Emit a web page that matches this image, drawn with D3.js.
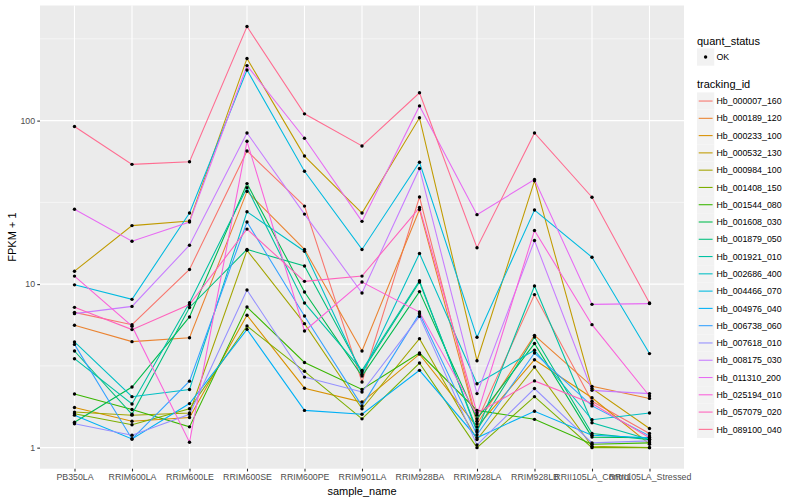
<!DOCTYPE html>
<html>
<head>
<meta charset="utf-8">
<script src="https://cdn.jsdelivr.net/npm/d3@7"></script>
<style>
  body { margin: 0; background: #fff; }
  text { font-family: "Liberation Sans", Arial, sans-serif; }
</style>
</head>
<body>
<script>
var samples = ["PB350LA", "RRIM600LA", "RRIM600LE", "RRIM600SE", "RRIM600PE", "RRIM901LA",
               "RRIM928BA", "RRIM928LA", "RRIM928LB", "RRII105LA_Control", "RRII105LA_Stressed"];

var trackingIds = ["Hb_000007_160", "Hb_000189_120", "Hb_000233_100", "Hb_000532_130", "Hb_000984_100",
                   "Hb_001408_150", "Hb_001544_080", "Hb_001608_030", "Hb_001879_050", "Hb_001921_010",
                   "Hb_002686_400", "Hb_004466_070", "Hb_004976_040", "Hb_006738_060", "Hb_007618_010",
                   "Hb_008175_030", "Hb_011310_200", "Hb_025194_010", "Hb_057079_020", "Hb_089100_040"];

// FPKM + 1, one array per tracking_id, in sample order
var hb_000007_160 = [6.72, 5.65, 12.3, 65.2, 30, 2.52, 34.1, 1.45, 8.63, 1.92, 1.22];
var hb_000189_120 = [5.6, 4.45, 4.7, 36.9, 16.3, 3.9, 28.6, 1.40, 4.86, 2.37, 2.0];
var hb_000233_100 = [1.76, 1.45, 1.53, 6.45, 2.31, 1.90, 3.73, 1.34, 3.45, 2.02, 1.05];
var hb_000532_130 = [12.0, 22.8, 24.3, 240, 60.7, 27.2, 104, 3.4, 42.8, 2.30, 1.31];
var hb_000984_100 = [1.65, 1.58, 1.63, 16.1, 5.73, 1.73, 4.64, 1.12, 3.11, 1.02, 1.0];
var hb_001408_150 = [1.61, 1.38, 1.73, 5.54, 2.93, 1.50, 3.29, 1.0, 2.05, 1.0, 1.0];
var hb_001544_080 = [2.13, 1.71, 1.34, 7.24, 3.32, 2.27, 3.79, 1.69, 1.49, 1.05, 1.07];
var hb_001608_030 = [1.43, 2.35, 6.3, 41.2, 8.95, 2.74, 9.0, 1.50, 4.33, 1.16, 1.15];
var hb_001879_050 = [3.9, 1.6, 7.2, 16.3, 12.9, 2.9, 10.3, 1.28, 4.75, 1.22, 1.12];
var hb_001921_010 = [3.5, 1.85, 7.7, 38.9, 7.67, 2.97, 10.5, 1.25, 9.74, 1.42, 1.12];
var hb_002686_400 = [4.43, 2.05, 2.27, 27.7, 15.9, 2.8, 15.4, 2.46, 3.94, 1.48, 1.63];
var hb_004466_070 = [9.9, 8.07, 27.2, 204, 49, 16.3, 55.6, 4.73, 28.4, 14.6, 3.76];
var hb_004976_040 = [1.58, 1.13, 1.86, 5.29, 1.69, 1.60, 2.97, 1.15, 1.67, 1.19, 1.15];
var hb_006738_060 = [4.28, 1.13, 2.55, 24, 6.38, 1.80, 6.6, 1.2, 3.79, 1.80, 1.18];
var hb_007618_010 = [1.40, 1.19, 1.60, 9.2, 2.70, 2.19, 6.35, 1.04, 2.30, 1.07, 1.10];
var hb_008175_030 = [6.6, 7.31, 17.3, 84, 26.8, 8.83, 51, 2.14, 18.5, 2.24, 2.14];
var hb_011310_200 = [28.7, 18.3, 24, 217, 78, 24.2, 123, 26.6, 43.6, 7.52, 7.6];
var hb_025194_010 = [11.2, 5.53, 1.08, 74.7, 5.17, 10.3, 6.75, 1.58, 21.3, 5.65, 2.07];
var hb_057079_020 = [7.21, 5.27, 7.5, 21.7, 10.4, 11.2, 29.4, 1.63, 2.56, 1.86, 1.15];
var hb_089100_040 = [92, 54, 56, 376, 110, 70, 148, 16.7, 84, 34, 7.66];

var allValues = [hb_000007_160, hb_000189_120, hb_000233_100, hb_000532_130, hb_000984_100,
                 hb_001408_150, hb_001544_080, hb_001608_030, hb_001879_050, hb_001921_010,
                 hb_002686_400, hb_004466_070, hb_004976_040, hb_006738_060, hb_007618_010,
                 hb_008175_030, hb_011310_200, hb_025194_010, hb_057079_020, hb_089100_040];

// ggplot default hue palette for 20 levels
var colours = ["#F8766D", "#EA8331", "#D89000", "#C09B00", "#A3A500", "#7CAE00", "#39B600", "#00BB4E",
               "#00BF7D", "#00C1A3", "#00BFC4", "#00BAE0", "#00B0F6", "#35A2FF", "#9590FF", "#C77CFF",
               "#E76BF3", "#FA62DB", "#FF62BC", "#FF6C91"];

var yMajor = [1, 10, 100];
var yMinor = [Math.pow(10, 0.5), Math.pow(10, 1.5), Math.pow(10, 2.5)];

var width = 800, height = 500;
var panel = {left: 40, top: 5.5, right: 684, bottom: 468.7};

var series = trackingIds.map(function(id, i) {
    return {id: id, values: allValues[i].map(function(v, j) { return {sample: samples[j], value: v}; })};
});

var svg = d3.select("body").append("svg").attr("width", width).attr("height", height);

var colour = d3.scaleOrdinal().domain(trackingIds).range(colours);

var x = d3.scalePoint().domain(samples).range([panel.left, panel.right]).padding(0.6);

var flat = d3.merge(allValues);
var lo = Math.log10(d3.min(flat)), hi = Math.log10(d3.max(flat));
var pad = (hi - lo) * 0.05;
var y = d3.scaleLog().domain([Math.pow(10, lo - pad), Math.pow(10, hi + pad)]).range([panel.bottom, panel.top]);

svg.append("rect")
    .attr("x", panel.left).attr("y", panel.top)
    .attr("width", panel.right - panel.left).attr("height", panel.bottom - panel.top)
    .attr("fill", "#EBEBEB");

svg.selectAll("line.minor").data(yMinor).enter().append("line")
    .attr("class", "minor")
    .attr("x1", panel.left).attr("x2", panel.right)
    .attr("y1", function(d) { return y(d); }).attr("y2", function(d) { return y(d); })
    .attr("stroke", "white").attr("stroke-width", 0.55);

svg.selectAll("line.majorY").data(yMajor).enter().append("line")
    .attr("class", "majorY")
    .attr("x1", panel.left).attr("x2", panel.right)
    .attr("y1", function(d) { return y(d); }).attr("y2", function(d) { return y(d); })
    .attr("stroke", "white").attr("stroke-width", 1.1);

svg.selectAll("line.majorX").data(samples).enter().append("line")
    .attr("class", "majorX")
    .attr("x1", function(d) { return x(d); }).attr("x2", function(d) { return x(d); })
    .attr("y1", panel.top).attr("y2", panel.bottom)
    .attr("stroke", "white").attr("stroke-width", 1.1);

// axes
var yAxis = svg.append("g")
    .attr("transform", "translate(" + panel.left + ",0)")
    .call(d3.axisLeft(y).tickValues(yMajor).tickFormat(d3.format("d")).tickSize(2.74).tickPadding(2.2));
var xAxis = svg.append("g")
    .attr("transform", "translate(0," + panel.bottom + ")")
    .call(d3.axisBottom(x).tickSize(2.74).tickPadding(2.2));
[yAxis, xAxis].forEach(function(a) {
    a.select(".domain").remove();
    a.selectAll(".tick line").attr("stroke", "#333333").attr("stroke-width", 1.07);
    a.selectAll(".tick text").attr("fill", "#4D4D4D").style("font-size", "8.8px")
        .style("font-family", "'Liberation Sans', Arial, sans-serif");
});

svg.append("text")
    .attr("x", (panel.left + panel.right) / 2).attr("y", 495)
    .attr("text-anchor", "middle").style("font-size", "11px").text("sample_name");

svg.append("text")
    .attr("transform", "translate(16," + ((panel.top + panel.bottom) / 2) + ") rotate(-90)")
    .attr("text-anchor", "middle").style("font-size", "11px").text("FPKM + 1");

// lines and points
var line = d3.line().x(function(d) { return x(d.sample); }).y(function(d) { return y(d.value); });

svg.append("g").selectAll("path").data(series).enter().append("path")
    .attr("d", function(d) { return line(d.values); })
    .attr("fill", "none")
    .attr("stroke", function(d) { return colour(d.id); })
    .attr("stroke-width", 1.07);

svg.append("g").selectAll("g").data(series).enter().append("g")
    .selectAll("circle").data(function(d) { return d.values; }).enter().append("circle")
    .attr("cx", function(d) { return x(d.sample); })
    .attr("cy", function(d) { return y(d.value); })
    .attr("r", 1.7)
    .attr("fill", "black");

// legends
var legend = svg.append("g");
legend.append("text").attr("x", 697).attr("y", 44.5).style("font-size", "11px").text("quant_status");
legend.append("rect").attr("x", 697).attr("y", 48.4).attr("width", 17.28).attr("height", 17.28).attr("fill", "#F2F2F2");
legend.append("circle").attr("cx", 705.6).attr("cy", 57).attr("r", 1.7).attr("fill", "black");
legend.append("text").attr("x", 716.5).attr("y", 60.2).style("font-size", "8.8px").text("OK");

legend.append("text").attr("x", 697).attr("y", 88).style("font-size", "11px").text("tracking_id");

var items = legend.selectAll("g.item").data(trackingIds).enter().append("g")
    .attr("class", "item")
    .attr("transform", function(d, i) { return "translate(697," + (92.4 + i * 17.28) + ")"; });
items.append("rect").attr("width", 17.28).attr("height", 17.28).attr("fill", "#F2F2F2");
items.append("line").attr("x1", 1.7).attr("x2", 15.6).attr("y1", 8.64).attr("y2", 8.64)
    .attr("stroke", function(d) { return colour(d); }).attr("stroke-width", 1.07);
items.append("text").attr("x", 19.5).attr("y", 11.8).style("font-size", "8.8px")
    .text(function(d) { return d; });
</script>
</body>
</html>
